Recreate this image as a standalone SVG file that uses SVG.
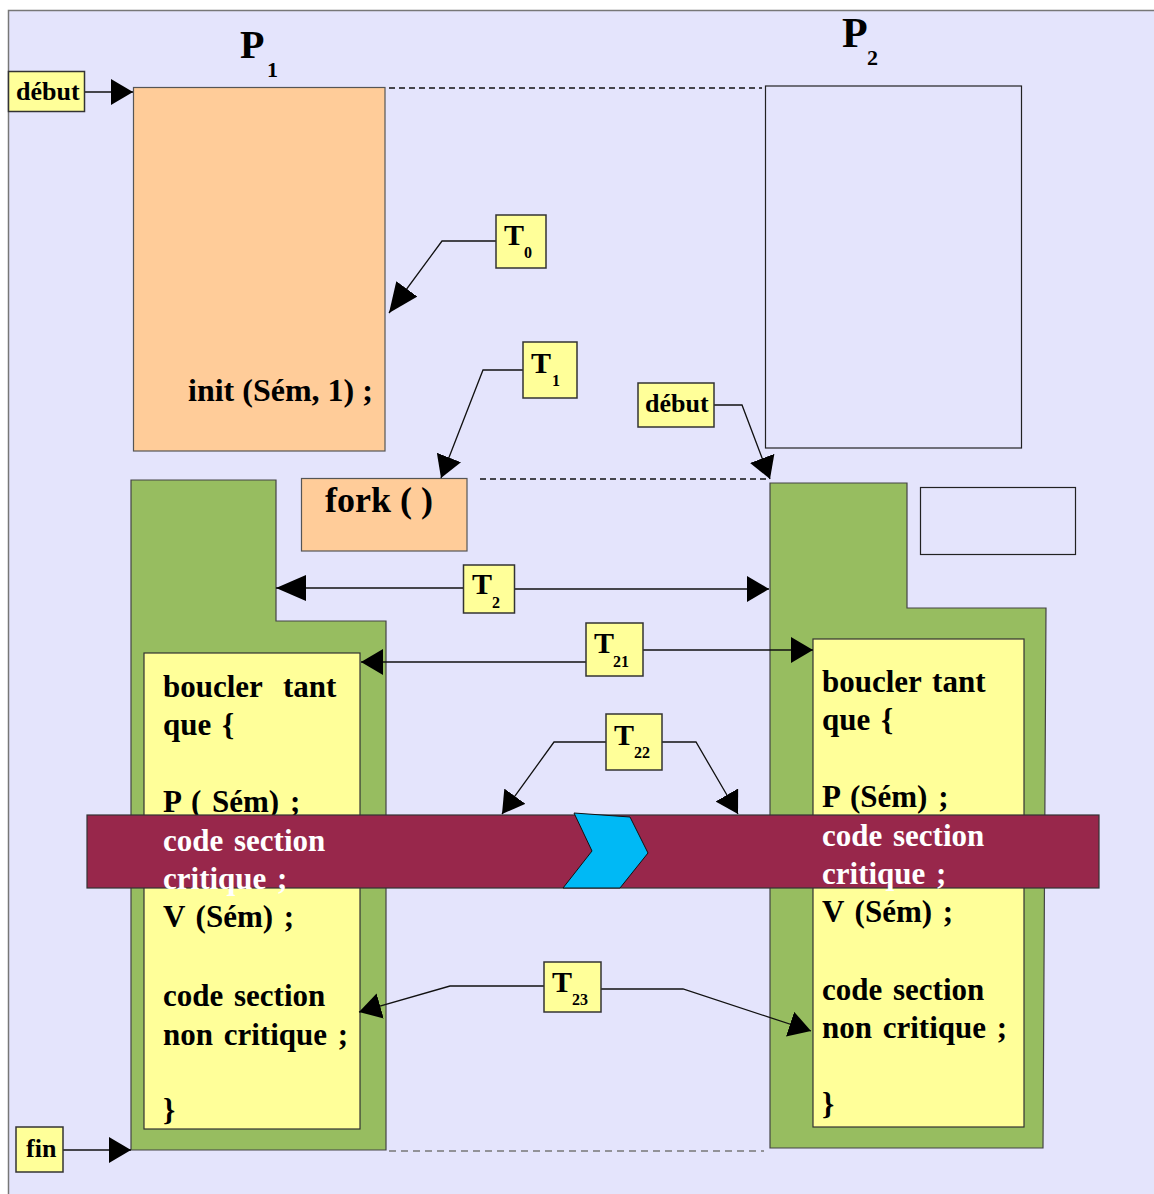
<svg xmlns="http://www.w3.org/2000/svg" width="1154" height="1194" viewBox="0 0 1154 1194">
<defs>
<style>
text{font-family:"Liberation Serif","Times New Roman",serif;font-weight:bold;fill:#000}
.code{font-size:31px;word-spacing:3px}
.wt{fill:#fff}
.lbl{fill:#FFFF99;stroke:#333;stroke-width:1.5}
.peach{fill:#FFCC99;stroke:#555;stroke-width:1.2}
.green{fill:#97BD60;stroke:#444;stroke-width:1.2}
.yel{fill:#FFFF99;stroke:#333;stroke-width:1.2}
.empty{fill:none;stroke:#222;stroke-width:1.2}
.con{fill:none;stroke:#111;stroke-width:1.3}
.dash{fill:none;stroke:#111;stroke-width:1.3;stroke-dasharray:6 4}
.dashg{fill:none;stroke:#777;stroke-width:1.5;stroke-dasharray:7 5}
.t{font-size:30px}
.sub{font-size:16px}
.wd{font-size:26px}
</style>
<marker id="ah" markerUnits="userSpaceOnUse" markerWidth="22" markerHeight="26" refX="22" refY="13" orient="auto" viewBox="0 0 22 26"><path d="M0,0 L22,13 L0,26 z" fill="#000"/></marker>
<marker id="ahL" markerUnits="userSpaceOnUse" markerWidth="30" markerHeight="26" refX="30" refY="13" orient="auto" viewBox="0 0 30 26"><path d="M0,0 L30,13 L0,26 z" fill="#000"/></marker>
</defs>
<rect x="0" y="0" width="1154" height="1194" fill="#fff"/>
<rect x="8.5" y="10.5" width="1160" height="1200" fill="#E4E4FC" stroke="#777" stroke-width="1.5"/>

<g id="titles">
<text x="240" y="58" font-size="40">P</text><text x="267" y="77" font-size="22">1</text>
<text x="842" y="47" font-size="42">P</text><text x="867" y="65" font-size="22">2</text>
</g>

<g id="dashed">
<path class="dash" d="M389,88 H762"/>
<path class="dash" d="M480,479 H768"/>
<path class="dashg" d="M389,1151 H764"/>
</g>

<g id="p1-init">
<rect class="peach" x="133.5" y="87.5" width="251.5" height="363.5"/>
<text x="188" y="401" font-size="32">init (Sém, 1) ;</text>
</g>
<g id="p2-box"><rect class="empty" x="765.5" y="86" width="256" height="362"/></g>
<g id="small-box"><rect class="empty" x="920.5" y="487.5" width="155" height="67"/></g>
<g id="fork">
<rect class="peach" x="301.5" y="478.5" width="165.5" height="72.5"/>
<text x="325" y="512" font-size="36">fork ( )</text>
</g>

<g id="p1-process">
<polygon class="green" points="131,480 276,480 276,621 386,621 386,1150 131,1150"/>
<rect class="yel" x="144" y="653" width="216" height="476"/>
<text class="code" x="163" y="697">boucler<tspan x="283">tant</tspan></text>
<text class="code" x="163" y="735">que {</text>
<text class="code" x="163" y="812">P ( Sém) ;</text>
<text class="code" x="163" y="927">V (Sém) ;</text>
<text class="code" x="163" y="1006">code section</text>
<text class="code" x="163" y="1045">non critique ;</text>
<text class="code" x="163" y="1120">}</text>
</g>

<g id="p2-process">
<polygon class="green" points="770,483 907,483 907,608 1046,608 1043,1148 770,1148"/>
<rect class="yel" x="813" y="639" width="211" height="488"/>
<text class="code" x="822" y="692">boucler tant</text>
<text class="code" x="822" y="730">que {</text>
<text class="code" x="822" y="807">P (Sém) ;</text>
<text class="code" x="822" y="922">V (Sém) ;</text>
<text class="code" x="822" y="1000">code section</text>
<text class="code" x="822" y="1038">non critique ;</text>
<text class="code" x="822" y="1114">}</text>
</g>

<g id="critical-band">
<rect x="87" y="815" width="1012" height="73" fill="#98274B" stroke="#333" stroke-width="1.2"/>
<polygon points="574,813 630,817 648,853 620,888 563,888 592,851" fill="#00B9F5" stroke="#111" stroke-width="1"/>
<text class="code wt" x="163" y="851">code section</text>
<text class="code wt" x="163" y="889">critique ;</text>
<text class="code wt" x="822" y="846">code section</text>
<text class="code wt" x="822" y="884">critique ;</text>
</g>

<g id="connectors">
<path class="con" d="M84,92 H133" marker-end="url(#ah)"/>
<path class="con" d="M496,241 H442 L389,313" marker-end="url(#ahL)"/>
<path class="con" d="M523,370 H483 L441,478" marker-end="url(#ah)"/>
<path class="con" d="M714,405 H742 L770,479" marker-end="url(#ah)"/>
<path class="con" d="M463,588 H276" marker-end="url(#ahL)"/>
<path class="con" d="M515,589 H769" marker-end="url(#ah)"/>
<path class="con" d="M586,662 H361" marker-end="url(#ah)"/>
<path class="con" d="M643,650 H813" marker-end="url(#ah)"/>
<path class="con" d="M606,742 H554 L502,814" marker-end="url(#ah)"/>
<path class="con" d="M662,742 H696 L738,814" marker-end="url(#ah)"/>
<path class="con" d="M544,986 H450 L359,1012" marker-end="url(#ah)"/>
<path class="con" d="M601,989 H683 L811,1031" marker-end="url(#ah)"/>
<path class="con" d="M63,1150 H131" marker-end="url(#ah)"/>
</g>

<g id="debut1"><rect class="lbl" x="8.5" y="71.5" width="76" height="40"/><text class="wd" x="16" y="100">début</text></g>
<g id="T0"><rect class="lbl" x="496" y="215" width="50" height="53"/><text class="t" x="504" y="245">T</text><text class="sub" x="524" y="258">0</text></g>
<g id="T1"><rect class="lbl" x="523" y="342" width="54" height="56"/><text class="t" x="531" y="373">T</text><text class="sub" x="552" y="386">1</text></g>
<g id="debut2"><rect class="lbl" x="638" y="383" width="76" height="44"/><text class="wd" x="645" y="412">début</text></g>
<g id="T2"><rect class="lbl" x="463.5" y="565" width="51" height="48"/><text class="t" x="472" y="594">T</text><text class="sub" x="492" y="608">2</text></g>
<g id="T21"><rect class="lbl" x="586" y="623" width="57" height="53"/><text class="t" x="594" y="653">T</text><text class="sub" x="613" y="667">21</text></g>
<g id="T22"><rect class="lbl" x="606" y="714" width="56" height="56"/><text class="t" x="614" y="745">T</text><text class="sub" x="634" y="758">22</text></g>
<g id="T23"><rect class="lbl" x="544" y="962" width="57" height="50"/><text class="t" x="552" y="992">T</text><text class="sub" x="572" y="1005">23</text></g>
<g id="fin"><rect class="lbl" x="16" y="1127" width="47" height="45"/><text class="wd" x="26" y="1157">fin</text></g>
</svg>
